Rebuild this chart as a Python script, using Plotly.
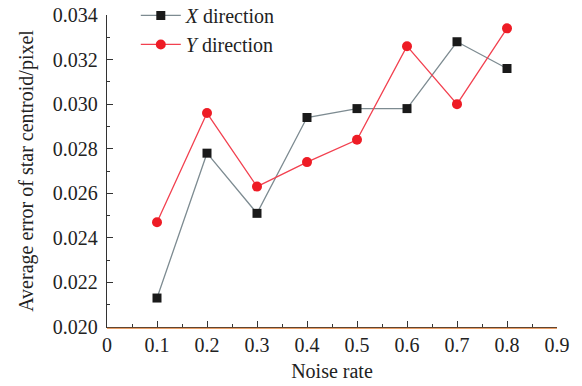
import plotly.graph_objects as go

noise_rate = [0.1, 0.2, 0.3, 0.4, 0.5, 0.6, 0.7, 0.8]
x_direction = [0.0213, 0.0278, 0.0251, 0.0294, 0.0298, 0.0298, 0.0328, 0.0316]
y_direction = [0.0247, 0.0296, 0.0263, 0.0274, 0.0284, 0.0326, 0.0300, 0.0334]
x_ticks = [0, 0.1, 0.2, 0.3, 0.4, 0.5, 0.6, 0.7, 0.8, 0.9]
x_tick_labels = ["0", "0.1", "0.2", "0.3", "0.4", "0.5", "0.6", "0.7", "0.8", "0.9"]
y_ticks = [0.020, 0.022, 0.024, 0.026, 0.028, 0.030, 0.032, 0.034]
y_tick_labels = ["0.020", "0.022", "0.024", "0.026", "0.028", "0.030", "0.032", "0.034"]

font = "Liberation Serif, Times New Roman, serif"

fig = go.Figure()
fig.add_trace(go.Scatter(
    x=noise_rate, y=x_direction, mode="lines+markers", name="<i>X</i> direction",
    line=dict(color="#7d8b91", width=1.3),
    marker=dict(symbol="square", size=9, color="#1a1a1a"),
))
fig.add_trace(go.Scatter(
    x=noise_rate, y=y_direction, mode="lines+markers", name="<i>Y</i> direction",
    line=dict(color="#f2404f", width=1.3),
    marker=dict(symbol="circle", size=10, color="#ee1c25"),
))

fig.add_shape(type="line", xref="paper", yref="paper", x0=0, x1=1, y0=-0.004, y1=-0.004,
              line=dict(color="#e07a30", width=1))

fig.update_layout(
    width=582, height=386,
    margin=dict(l=107, r=25, t=15, b=59, autoexpand=False),
    paper_bgcolor="white", plot_bgcolor="white",
    font=dict(family=font, size=20, color="#222"),
    showlegend=True,
    legend=dict(x=0.064, y=1.061, xanchor="left", yanchor="top", bgcolor="rgba(0,0,0,0)",
                font=dict(family=font, size=20, color="#222"), tracegroupgap=0,
                itemwidth=40),
    xaxis=dict(
        range=[0, 0.9], tickvals=x_ticks, ticktext=x_tick_labels, automargin=False,
        showgrid=False, zeroline=False, showline=True, linecolor="#333", linewidth=1.3,
        ticks="inside", ticklen=6, tickwidth=1.3, tickcolor="#333",
        minor=dict(ticks="inside", ticklen=3, dtick=0.05, tickcolor="#333", tickwidth=1.3),
        title=dict(text="Noise rate", standoff=8, font=dict(family=font, size=20)),
        tickfont=dict(family=font, size=20),
    ),
    yaxis=dict(
        range=[0.020, 0.034], tickvals=y_ticks, ticktext=y_tick_labels, automargin=False,
        showgrid=False, zeroline=False, showline=True, linecolor="#333", linewidth=1.3,
        ticks="inside", ticklen=6, tickwidth=1.3, tickcolor="#333", ticklabelstandoff=4,
        ticklabeloverflow="allow",
        minor=dict(ticks="inside", ticklen=3, dtick=0.001, tickcolor="#333", tickwidth=1.3),
        title=dict(text="Average error of star centroid/pixel", standoff=13, font=dict(family=font, size=20)),
        tickfont=dict(family=font, size=20),
    ),
)

# remove the browser's default 8px body margin so the figure fills the window exactly
fig.write_html("out.html", config={"displayModeBar": False},
               post_script="document.body.style.margin='0px';")
